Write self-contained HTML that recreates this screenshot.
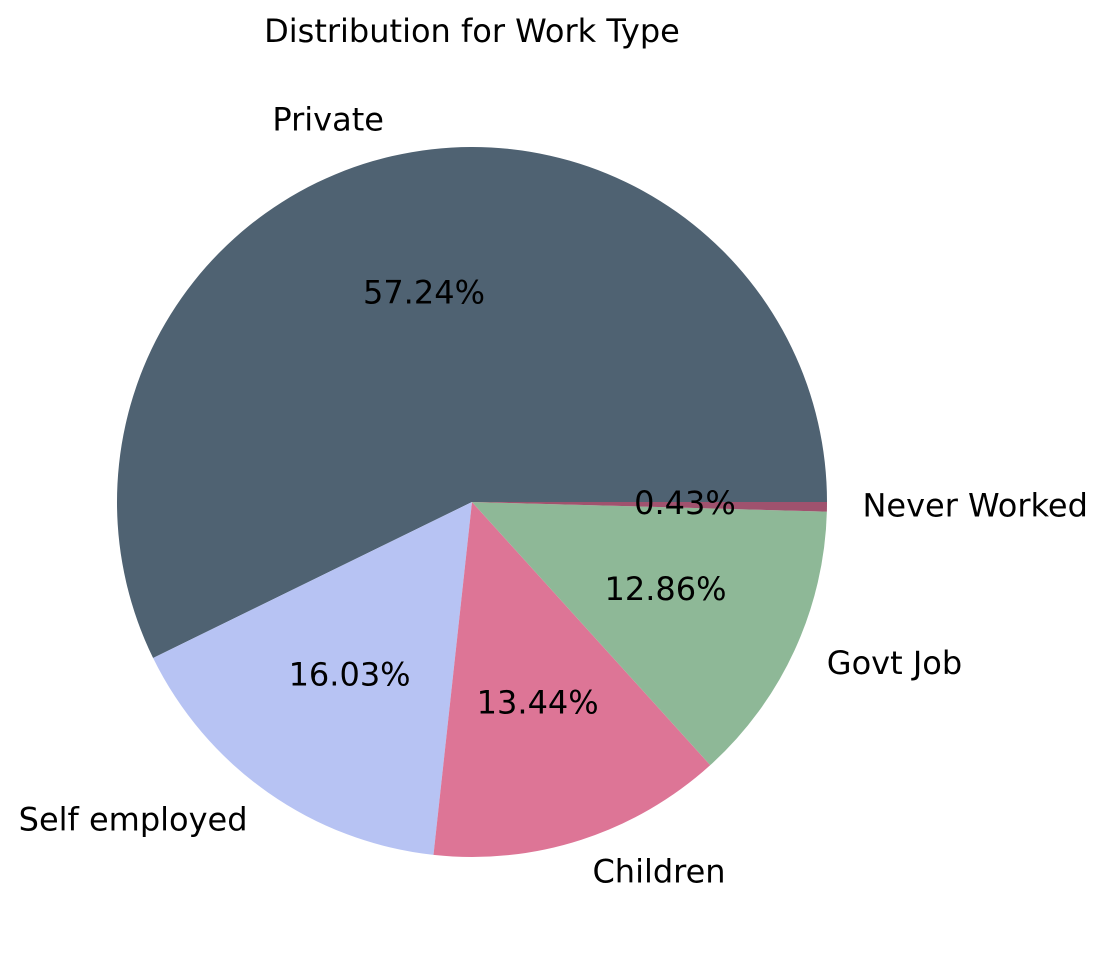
<!DOCTYPE html>
<html><head><meta charset="utf-8"><style>
body{margin:0;background:#fff}
svg text{font-family:"DejaVu Sans","Liberation Sans",sans-serif;font-size:32px;fill:#000}
</style></head><body>
<svg id="chart" width="1107" height="965" xmlns="http://www.w3.org/2000/svg">
<text x="472" y="33" text-anchor="middle" dominant-baseline="middle">Distribution for Work Type</text>
<g id="slices"></g><g id="labels"></g>
</svg>
<script>
const categories = ["Private","Self employed","Children","Govt Job","Never Worked"];
const values = [57.24,16.03,13.44,12.86,0.43];
const pctLabels = ["57.24%","16.03%","13.44%","12.86%","0.43%"];
const colors = ["#4f6272","#b7c3f3","#dd7596","#8eb897","#a0526e"];
const cx=472, cy=502, R=355, NS="http://www.w3.org/2000/svg";
const total=values.reduce((a,b)=>a+b,0);
const gs=document.getElementById('slices'), gl=document.getElementById('labels');
function pt(a,r){return [cx+r*Math.cos(a), cy-r*Math.sin(a)];}
let start=0;
values.forEach((v,i)=>{
  const sweep=v/total*2*Math.PI, end=start+sweep;
  const [x1,y1]=pt(start,R),[x2,y2]=pt(end,R);
  const p=document.createElementNS(NS,'path');
  p.setAttribute('d',`M${cx},${cy} L${x1},${y1} A${R},${R} 0 ${sweep>Math.PI?1:0} 0 ${x2},${y2} Z`);
  p.setAttribute('fill',colors[i]);
  
  
  gs.appendChild(p);
  const mid=(start+end)/2;
  const [lx,ly]=pt(mid,R*1.1);
  const t=document.createElementNS(NS,'text');
  t.setAttribute('x',lx);t.setAttribute('y',ly);
  t.setAttribute('text-anchor',Math.cos(mid)>0?'start':'end');
  t.setAttribute('dominant-baseline','middle');
  t.textContent=categories[i];
  
  
  gl.appendChild(t);
  const [px,py]=pt(mid,R*0.6);
  const q=document.createElementNS(NS,'text');
  q.setAttribute('x',px);q.setAttribute('y',py);
  q.setAttribute('text-anchor','middle');
  q.setAttribute('dominant-baseline','middle');
  q.textContent=pctLabels[i];
  
  
  gl.appendChild(q);
  start=end;
});
</script>
</body></html>
